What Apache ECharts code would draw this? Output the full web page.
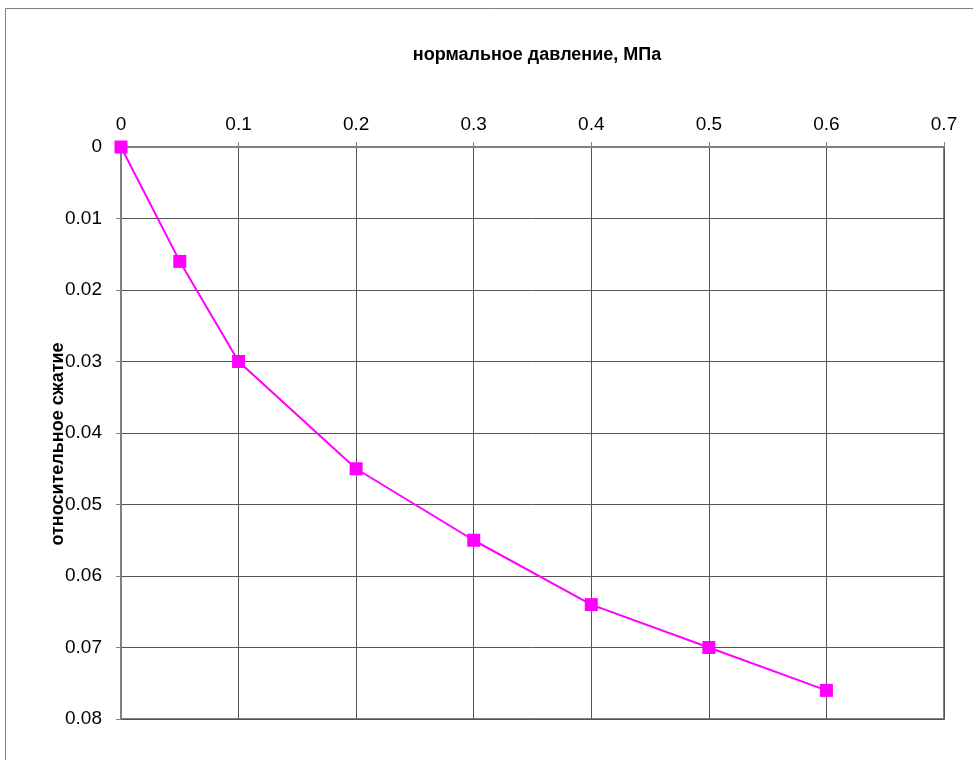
<!DOCTYPE html>
<html><head><meta charset="utf-8">
<script src="https://cdn.jsdelivr.net/npm/echarts@6/dist/echarts.min.js"></script>
<style>html,body{margin:0;padding:0;background:#fff}#c{width:973px;height:760px}</style>
</head><body><div id="c"></div>
<script>
const pressure = [0, 0.05, 0.1, 0.2, 0.3, 0.4, 0.5, 0.6];
const strain = [0, 0.016, 0.03, 0.045, 0.055, 0.064, 0.07, 0.076];
const xTitle = 'нормальное давление, МПа';
const yTitle = 'относительное сжатие';

const chart = echarts.init(document.getElementById('c'), null, {renderer: 'canvas'});
chart.setOption({
  animation: false,
  backgroundColor: '#fff',
  graphic: [{
    type: 'rect', shape: {x: 5.5, y: 8.5, width: 1000, height: 800},
    style: {fill: 'none', stroke: '#808080', lineWidth: 1}, z: -1
  }, {
    type: 'text', x: 537, y: 55,
    style: {text: xTitle, font: 'bold 18px "Liberation Sans", Arial, sans-serif', fill: '#000', align: 'center', verticalAlign: 'middle'}
  }, {
    type: 'text', x: 58, y: 444, rotation: Math.PI / 2,
    style: {text: yTitle, font: 'bold 18px "Liberation Sans", Arial, sans-serif', fill: '#000', align: 'center', verticalAlign: 'middle'}
  }],
  grid: {left: 121, right: 29, top: 147, bottom: 41, show: true, borderColor: '#808080', borderWidth: 2},
  xAxis: {
    type: 'value', position: 'top', min: 0, max: 0.7, interval: 0.1,
    axisLine: {show: true, lineStyle: {color: '#808080', width: 2}},
    axisTick: {show: true, length: 5, lineStyle: {color: '#808080'}},
    axisLabel: {margin: 13, fontSize: 19, color: '#000', fontFamily: '"Liberation Sans", Arial, sans-serif'},
    splitLine: {show: true, lineStyle: {color: '#555', width: 1}}
  },
  yAxis: {
    type: 'value', inverse: true, min: 0, max: 0.08, interval: 0.01,
    axisLine: {show: true, lineStyle: {color: '#808080', width: 2}},
    axisTick: {show: true, length: 5, lineStyle: {color: '#808080'}},
    axisLabel: {margin: 19, fontSize: 19, color: '#000', fontFamily: '"Liberation Sans", Arial, sans-serif'},
    splitLine: {show: true, lineStyle: {color: '#555', width: 1}}
  },
  series: [{
    type: 'line',
    data: pressure.map((p, i) => [p, strain[i]]),
    symbol: 'rect', symbolSize: 13,
    lineStyle: {color: '#FF00FF', width: 2},
    itemStyle: {color: '#FF00FF'},
    clip: false
  }]
});
</script></body></html>
